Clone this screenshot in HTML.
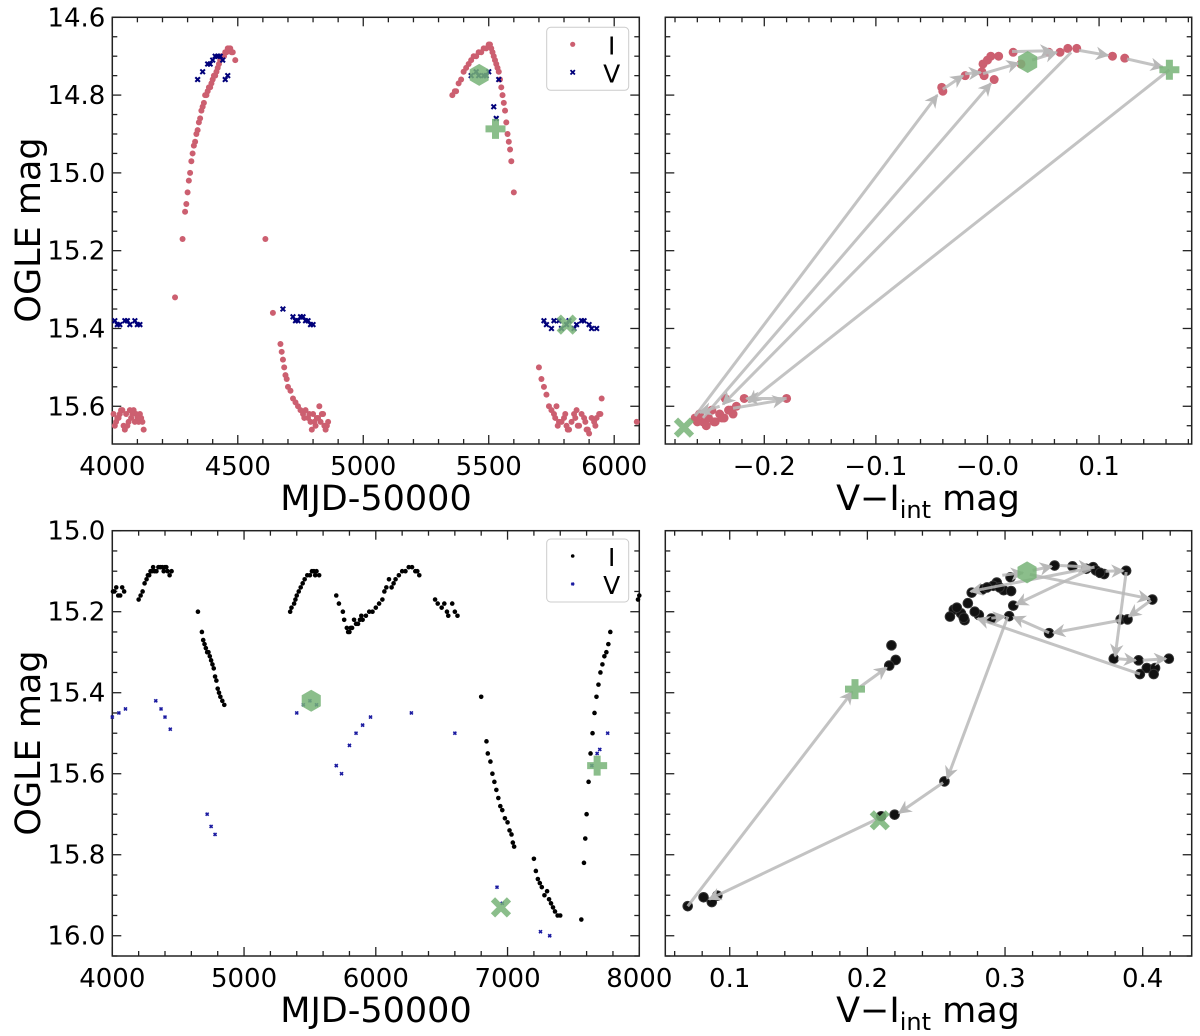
<!DOCTYPE html>
<html><head><meta charset="utf-8"><style>
body{margin:0;background:#fff}
svg{display:block;font-family:"DejaVu Sans","Liberation Sans",sans-serif}
</style></head><body>
<svg id="fig" width="1200" height="1036" viewBox="0 0 1200 1036" xmlns="http://www.w3.org/2000/svg">
<defs>
<marker id="ah" viewBox="0 0 10 10" refX="9" refY="5" markerWidth="4.5" markerHeight="4.5" orient="auto" markerUnits="strokeWidth"><path d="M0,0 L10,5 L0,10 L3,5 z" fill="#b8b8b8"/></marker>
</defs>
</svg>
<script>
// ---- top-left light curve (I, V) ----
const tlIx=[4005,4015,4025,4035,4045,4055,4065,4075,4085,4095,4105,4115,4125,4010,4030,4050,4070,4090,4110,4250,4280,4290,4300,4310,4320,4330,4340,4350,4360,4370,4380,4390,4400,4410,4420,4430,4440,4450,4460,4470,4480,4490,4610,4640,4670,4680,4690,4700,4720,4740,4760,4780,4790,4800,4810,4820,4830,4840,4850,4860,4770,4795,4825,4845,5355,5370,5380,5400,5420,5440,5460,5480,5500,5510,5520,5530,5540,5550,5560,5570,5580,5590,5600,5700,5720,5740,5760,5780,5800,5820,5840,5860,5880,5900,5920,5940,5770,5810,5850,5890,5930,5950,6090,
4020,4040,4060,4080,4100,4120,4295,4305,4315,4325,4335,4345,4355,4365,4375,4385,4395,4405,4415,4425,4435,4445,4455,4465,4475,4675,4685,4695,4710,4730,4750,4765,4785,4805,4815,4835,4855,5365,5390,5410,5430,5450,5470,5490,5505,5515,5525,5535,5545,5555,5565,5575,5585,5710,5730,5750,5765,5775,5790,5805,5815,5830,5845,5855,5870,5885,5895,5910,5925,5945];
const tlIy=[15.62,15.64,15.63,15.61,15.65,15.62,15.64,15.63,15.61,15.62,15.64,15.63,15.66,15.65,15.62,15.66,15.61,15.64,15.62,15.32,15.17,15.1,15.05,15.0,14.95,14.92,14.89,14.86,14.83,14.8,14.79,14.78,14.76,14.75,14.73,14.71,14.70,14.69,14.68,14.68,14.69,14.71,15.17,15.36,15.44,15.48,15.52,15.55,15.58,15.6,15.62,15.63,15.64,15.62,15.65,15.63,15.64,15.62,15.66,15.64,15.61,15.66,15.6,15.65,14.8,14.79,14.77,14.74,14.72,14.70,14.69,14.68,14.67,14.68,14.70,14.72,14.74,14.78,14.82,14.87,14.92,14.97,15.05,15.5,15.55,15.6,15.62,15.64,15.63,15.66,15.62,15.65,15.63,15.67,15.64,15.62,15.6,15.65,15.61,15.66,15.63,15.58,15.64,
15.63,15.61,15.65,15.62,15.63,15.64,15.08,15.02,14.97,14.93,14.9,14.87,14.84,14.82,14.8,14.78,14.77,14.75,14.74,14.72,14.7,14.7,14.69,14.68,14.69,15.46,15.5,15.53,15.56,15.59,15.61,15.63,15.62,15.64,15.63,15.62,15.65,14.79,14.76,14.73,14.71,14.70,14.69,14.68,14.67,14.69,14.71,14.73,14.76,14.8,14.84,14.9,14.94,15.53,15.57,15.61,15.63,15.65,15.64,15.62,15.66,15.64,15.63,15.65,15.62,15.64,15.66,15.63,15.65,15.62];
const tlVx=[4010,4030,4050,4070,4090,4110,4340,4360,4380,4400,4410,4420,4440,4450,4460,4680,4720,4740,4760,4780,4800,5430,5460,5480,5500,5540,5520,5530,5720,5750,5780,5810,5840,5870,5900,5930,4020,4060,4100,4390,4430,4730,4750,4770,4790,5450,5490,5730,5760,5790,5820,5850,5880,5910];
const tlVy=[15.38,15.39,15.38,15.39,15.38,15.39,14.76,14.74,14.72,14.71,14.70,14.70,14.71,14.76,14.75,15.35,15.37,15.38,15.37,15.38,15.39,14.75,14.75,14.75,14.74,14.76,14.83,14.86,15.38,15.40,15.38,15.39,15.40,15.38,15.39,15.40,15.39,15.38,15.39,14.72,14.70,15.38,15.37,15.38,15.39,14.74,14.75,15.39,15.38,15.40,15.38,15.39,15.38,15.40];
const tlMarks=[["hex",5462,14.748],["plus",5527,14.887],["x",5811,15.39]];
// ---- top-right colour-magnitude ----
const trX=[-0.262,-0.258,-0.255,-0.25,-0.247,-0.244,-0.24,-0.236,-0.232,-0.228,-0.225,-0.252,-0.245,-0.238,-0.23,-0.26,-0.235,-0.218,-0.18,-0.04,-0.041,-0.02,-0.005,-0.003,0.006,-0.004,0.0,0.003,0.01,0.023,0.03,0.055,0.065,0.072,0.08,0.112,0.123];
const trY=[15.63,15.62,15.64,15.63,15.61,15.64,15.62,15.63,15.61,15.62,15.6,15.65,15.64,15.63,15.61,15.64,15.58,15.58,15.58,14.79,14.78,14.75,14.74,14.75,14.76,14.72,14.71,14.70,14.70,14.69,14.72,14.69,14.69,14.68,14.68,14.70,14.705];
const trArrows=[[-0.262,15.625,-0.045,14.8],[-0.255,15.63,0.003,14.77],[0.075,14.69,-0.237,15.595],[0.163,14.735,-0.214,15.59],[-0.04,14.785,-0.022,14.75],[-0.02,14.745,-0.006,14.742],[-0.004,14.745,0.028,14.718],[0.04,14.71,0.062,14.69],[0.022,14.688,0.058,14.686],[0.082,14.685,0.108,14.698],[0.125,14.707,0.157,14.728],[-0.18,15.58,-0.216,15.58],[-0.228,15.605,-0.182,15.583],[-0.24,15.6,-0.258,15.616]];
const trMarks=[["hex",0.036,14.715],["plus",0.163,14.735],["x",-0.272,15.655]];
// ---- bottom-left light curve ----
const blIx=[4005,4030,4060,4090,4200,4230,4260,4280,4300,4320,4350,4380,4400,4420,4450,4650,4680,4700,4710,4720,4740,4750,4760,4780,4790,4800,4820,4850,5350,5380,5400,5430,5460,5500,5530,5550,5570,5700,5750,5780,5800,5820,5850,5880,5900,5950,6000,6050,6080,6100,6120,6150,6200,6250,6300,6330,6450,6500,6520,6550,6580,6620,6800,6840,6870,6900,6930,6960,7000,7030,7050,7200,7230,7260,7300,7330,7360,7400,7560,7580,7600,7630,7660,7690,7720,7750,7780,7990,8000,
4015,4045,4075,4215,4245,4270,4290,4310,4335,4365,4390,4410,4435,4690,4730,4770,4810,4835,5360,5390,5415,5445,5480,5515,5540,5720,5760,5790,5810,5835,5865,5890,5925,5975,6025,6065,6135,6175,6225,6275,6315,6470,6540,6600,6850,6885,6915,6945,6980,7015,7040,7215,7245,7280,7315,7345,7380,7590,7615,7645,7675,7705,7735,7765];
const blIy=[15.15,15.14,15.16,15.15,15.17,15.15,15.12,15.11,15.1,15.1,15.09,15.09,15.09,15.1,15.1,15.2,15.25,15.28,15.29,15.3,15.31,15.32,15.33,15.36,15.37,15.39,15.41,15.43,15.2,15.18,15.16,15.14,15.12,15.11,15.1,15.1,15.11,15.16,15.2,15.24,15.25,15.24,15.23,15.22,15.22,15.2,15.19,15.17,15.14,15.12,15.14,15.12,15.1,15.09,15.1,15.11,15.17,15.19,15.18,15.21,15.18,15.21,15.41,15.52,15.57,15.62,15.66,15.69,15.72,15.75,15.78,15.81,15.86,15.88,15.89,15.92,15.94,15.95,15.96,15.82,15.7,15.55,15.45,15.38,15.33,15.3,15.25,15.17,15.16,
15.15,15.16,15.14,15.16,15.13,15.11,15.1,15.09,15.1,15.09,15.1,15.09,15.11,15.27,15.3,15.34,15.4,15.42,15.19,15.17,15.15,15.13,15.11,15.1,15.11,15.18,15.22,15.25,15.24,15.22,15.23,15.21,15.21,15.2,15.18,15.15,15.13,15.11,15.1,15.09,15.1,15.18,15.2,15.2,15.55,15.6,15.64,15.68,15.71,15.74,15.77,15.84,15.87,15.9,15.91,15.93,15.95,15.76,15.62,15.5,15.41,15.35,15.31,15.28];
const blVx=[4000,4050,4100,4330,4370,4400,4440,4720,4750,4780,5400,5450,5500,5550,5700,5740,5800,5850,5900,5960,6270,6600,6920,6960,7250,7320,7640,7680,7700,7760];
const blVy=[15.46,15.45,15.44,15.42,15.44,15.46,15.49,15.70,15.73,15.75,15.45,15.43,15.42,15.43,15.58,15.6,15.53,15.5,15.48,15.46,15.45,15.5,15.88,15.92,15.99,16.0,15.58,15.55,15.54,15.5];
const blMarks=[["hex",5510,15.42],["x",6950,15.93],["plus",7680,15.58]];
// ---- bottom-right colour-magnitude ----
const brX=[0.304,0.336,0.349,0.359,0.364,0.372,0.388,0.407,0.384,0.389,0.332,0.303,0.29,0.306,0.2628,0.268,0.26,0.2706,0.281,0.273,0.2758,0.2836,0.294,0.299,0.3044,0.2914,0.379,0.397,0.419,0.403,0.409,0.398,0.408,0.2175,0.2206,0.2159,0.256,0.2198,0.21,0.0695,0.081,0.087,0.091,0.265,0.27,0.278,0.287,0.296,0.366,0.369];
const brY=[15.115,15.086,15.088,15.094,15.09,15.107,15.099,15.17,15.219,15.219,15.253,15.211,15.217,15.185,15.195,15.204,15.212,15.221,15.208,15.179,15.153,15.145,15.128,15.147,15.149,15.136,15.316,15.32,15.316,15.339,15.339,15.354,15.354,15.283,15.319,15.333,15.619,15.701,15.705,15.927,15.905,15.917,15.901,15.19,15.215,15.2,15.14,15.14,15.098,15.104];
const brArrows=[[0.207,15.712,0.085,15.91],[0.0695,15.927,0.189,15.398],[0.195,15.385,0.214,15.338],[0.302,15.212,0.258,15.612],[0.255,15.622,0.223,15.697],[0.298,15.11,0.313,15.104],[0.32,15.098,0.334,15.088],[0.34,15.086,0.362,15.09],[0.373,15.1,0.386,15.099],[0.388,15.102,0.38,15.31],[0.382,15.316,0.395,15.32],[0.4,15.32,0.417,15.316],[0.398,15.354,0.28,15.217],[0.318,15.108,0.405,15.168],[0.406,15.172,0.39,15.212],[0.384,15.221,0.335,15.252],[0.332,15.252,0.306,15.213],[0.362,15.095,0.308,15.182],[0.365,15.09,0.275,15.15],[0.29,15.216,0.3,15.212]];
const brMarks=[["hex",0.316,15.103],["plus",0.191,15.391],["x",0.209,15.715]];

const NS="http://www.w3.org/2000/svg";
const svg=document.getElementById('fig');
function mk(tag,at,parent){const e=document.createElementNS(NS,tag);for(const k in at)e.setAttribute(k,at[k]);(parent||svg).appendChild(e);return e;}
function fmt(v,d){let s=v.toFixed(d);if(s.startsWith('-'))s='\u2212'+s.slice(1);return s;}

function axes(name,L,R,T,B,x0,x1,y0,y1,xMaj,xMin,yMaj,yMin,xd,yd,ylabels){
  const g=mk('g',{});
  
  
  const sx=v=>L+(v-x0)/(x1-x0)*(R-L), sy=v=>T+(v-y0)/(y1-y0)*(B-T);
  const tg=mk('g',{stroke:'#222','stroke-width':1.3},g);
  for(let v=Math.ceil(x0/xMin-1e-6)*xMin;v<=x1+1e-9;v+=xMin){
    const maj=Math.abs(v/xMaj-Math.round(v/xMaj))<1e-6,len=maj?9:5,x=sx(v);
    mk('line',{x1:x,x2:x,y1:B,y2:B-len},tg);mk('line',{x1:x,x2:x,y1:T,y2:T+len},tg);
    if(maj){const t=mk('text',{x:x,y:B+31,'font-size':26,'text-anchor':'middle',fill:'#000',stroke:'none'},g);t.textContent=fmt(v,xd);
      
      }
  }
  for(let v=Math.ceil(y0/yMin-1e-6)*yMin;v<=y1+1e-9;v+=yMin){
    const maj=Math.abs(v/yMaj-Math.round(v/yMaj))<1e-6,len=maj?9:5,y=sy(v);
    mk('line',{x1:L,x2:L+len,y1:y,y2:y},tg);mk('line',{x1:R,x2:R-len,y1:y,y2:y},tg);
    if(maj&&ylabels){const t=mk('text',{x:L-7,y:y+9,'font-size':26,'text-anchor':'end',fill:'#000'},g);t.textContent=fmt(v,yd);
      
      }
  }
  const f=mk('rect',{x:L,y:T,width:R-L,height:B-T,fill:'none',stroke:'#222','stroke-width':1.5},g);
  
  
  return {sx,sy,g,L,R,T,B};
}
function marker(ax,type,x,y){
  const cx=ax.sx(x),cy=ax.sy(y);let e;
  if(type==='hex'){let p=[];for(let i=0;i<6;i++){const a=Math.PI/3*i+Math.PI/6;p.push((cx+11*Math.cos(a)).toFixed(1)+','+(cy+11*Math.sin(a)).toFixed(1));}
    e=mk('polygon',{points:p.join(' '),fill:'#77b377','fill-opacity':0.85},ax.g);}
  else if(type==='plus'){e=mk('path',{d:`M${cx-3.5},${cy-10}h7v6.5h6.5v7h-6.5v6.5h-7v-6.5h-6.5v-7h6.5z`,fill:'#77b377','fill-opacity':0.85},ax.g);}
  else{e=mk('path',{d:`M${cx-8},${cy-8}L${cx+8},${cy+8}M${cx+8},${cy-8}L${cx-8},${cy+8}`,stroke:'#77b377','stroke-opacity':0.85,'stroke-width':6},ax.g);}
  
  
}
function dots(ax,xs,ys,r,fill,stroke,nm){
  for(let i=0;i<xs.length;i++){const c=mk('circle',{cx:ax.sx(xs[i]),cy:ax.sy(ys[i]),r:r,fill:fill,stroke:stroke||'none','stroke-width':1},ax.g);
    
    }
}
function crosses(ax,xs,ys,s,col,w,nm){
  for(let i=0;i<xs.length;i++){const x=ax.sx(xs[i]),y=ax.sy(ys[i]);
    const p=mk('path',{d:`M${x-s},${y-s}L${x+s},${y+s}M${x+s},${y-s}L${x-s},${y+s}`,stroke:col,'stroke-width':w},ax.g);
    
    }
}
function arrows(ax,arr){
  for(const a of arr){const l=mk('line',{x1:ax.sx(a[0]),y1:ax.sy(a[1]),x2:ax.sx(a[2]),y2:ax.sy(a[3]),stroke:'#b8b8b8','stroke-opacity':0.85,'stroke-width':3,'marker-end':'url(#ah)'},ax.g);
    
    }
}
function legend(x,y,ic,vc,small,nm){
  const g=mk('g',{});
  
  
  mk('rect',{x:x,y:y,width:82,height:63,rx:4,fill:'#fff','fill-opacity':0.85,stroke:'#ccc','stroke-width':1},g);
  mk('circle',{cx:x+26,cy:y+17,r:small?1.8:2.6,fill:ic},g);
  const s=small?1.3:2.2;mk('path',{d:`M${x+26-s},${y+45-s}L${x+26+s},${y+45+s}M${x+26+s},${y+45-s}L${x+26-s},${y+45+s}`,stroke:vc,'stroke-width':1.8},g);
  const t1=mk('text',{x:x+65,y:y+27,'font-size':25,'text-anchor':'middle'},g);t1.textContent='I';
  const t2=mk('text',{x:x+65,y:y+55,'font-size':25,'text-anchor':'middle'},g);t2.textContent='V';
}
function label(x,y,txt,rot,nm,sub){
  const t=mk('text',{x:x,y:y,'font-size':35,'text-anchor':'middle',transform:rot?`rotate(-90 ${x} ${y})`:''});
  
  
  if(sub){t.textContent='';const a=mk('tspan',{},t);a.textContent='V\u2212I';const b=mk('tspan',{'font-size':24,dy:8},t);b.textContent='int';const c=mk('tspan',{dy:-8},t);c.textContent=' mag';}
  else t.textContent=txt;
}

const RED='#cc5f70',NAVY='#00007a';
const a1=axes('light-curve-top',112.3,639.3,17.3,444,4000,6100,14.6,15.697,500,100,0.2,0.05,0,1,true);
dots(a1,tlIx,tlIy,3.0,RED,null,'i-band-point');
crosses(a1,tlVx,tlVy,2.3,NAVY,2,'v-band-point');
tlMarks.forEach(m=>marker(a1,m[0],m[1],m[2]));
legend(546.7,27.3,RED,NAVY,false,'legend-top');
const a2=axes('cmd-top',665.3,1191.7,17.3,444,-0.2887,0.183,14.6,15.697,0.1,0.02,0.2,0.05,1,1,false);
dots(a2,trX,trY,4.5,RED,null,'cmd-point');
arrows(a2,trArrows);
trMarks.forEach(m=>marker(a2,m[0],m[1],m[2]));
const a3=axes('light-curve-bottom',112.3,639.3,530.7,956,4000,8000,15.0,16.05,1000,200,0.2,0.05,0,1,true);
dots(a3,blIx,blIy,2.3,'#000',null,'i-band-point');
crosses(a3,blVx,blVy,1.5,'#1a1aa0',1.6,'v-band-point');
blMarks.forEach(m=>marker(a3,m[0],m[1],m[2]));
legend(546.7,539,'#000','#1a1aa0',true,'legend-bottom');
const a4=axes('cmd-bottom',665.3,1191.7,530.7,956,0.0532,0.4356,15.0,16.05,0.1,0.02,0.2,0.05,1,1,false);
dots(a4,brX,brY,4.8,'#111','#333','cmd-point');
arrows(a4,brArrows);
brMarks.forEach(m=>marker(a4,m[0],m[1],m[2]));
label(376,510,'MJD-50000',false,'x-axis-title-top');
label(376,1022,'MJD-50000',false,'x-axis-title-bottom');
label(928,510,'',false,'x-axis-title-cmd-top',true);
label(928,1022,'',false,'x-axis-title-cmd-bottom',true);
label(40,230,'OGLE mag',true,'y-axis-title-top');
label(40,743,'OGLE mag',true,'y-axis-title-bottom');
</script>
</body></html>
